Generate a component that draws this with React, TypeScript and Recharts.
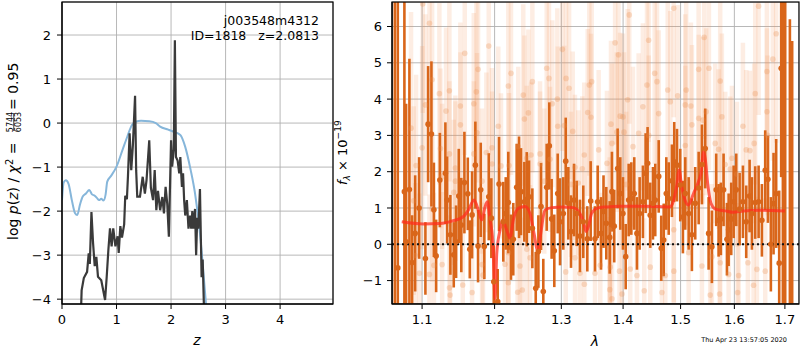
import React from "react";
import {
  ComposedChart,
  Line,
  Scatter,
  ErrorBar,
  XAxis,
  YAxis,
  CartesianGrid,
  ReferenceLine,
} from "recharts";

const FONT = "DejaVu Sans, sans-serif";

// ---- left panel: log p(z) ----
const zBlack = [
  0.345, 0.36, 0.4, 0.46, 0.49, 0.51, 0.54, 0.57, 0.6, 0.63,
  0.66, 0.72, 0.79, 0.82, 0.85, 0.88, 0.91, 0.94, 0.98, 1.02,
  1.04, 1.07, 1.1, 1.14, 1.16, 1.19, 1.21, 1.24, 1.27, 1.3,
  1.34, 1.36, 1.38, 1.43, 1.48, 1.52, 1.55, 1.6, 1.63, 1.67,
  1.7, 1.73, 1.76, 1.8, 1.84, 1.87, 1.9, 1.93, 1.96, 2.0,
  2.02, 2.05, 2.07, 2.09, 2.12, 2.15, 2.17, 2.2, 2.22, 2.24,
  2.26, 2.29, 2.32, 2.35, 2.37, 2.39, 2.41, 2.44, 2.46, 2.48,
  2.5, 2.53, 2.56, 2.58, 2.61,
];
const logpBlack = [
  -4.4, -3.8, -3.52, -3.38, -2.96, -3.2, -2.02, -2.73, -3.25, -3.04,
  -3.49, -3.57, -4.02, -3.49, -2.89, -2.39, -2.8, -2.39, -2.8, -2.57,
  -2.95, -2.34, -2.6, -2.3, -1.65, -1.73, -1.2, -0.23, -1.07, -0.5,
  0.62, -1.07, -1.67, -1.67, -1.22, -1.6, -1.3, -0.39, -1.47, -1.75,
  -1.07, -1.98, -1.54, -1.98, -1.68, -2.05, -1.45, -1.83, -2.58, -0.39,
  -0.99, -0.6, 1.88, -0.77, -0.85, -1.14, -0.77, -1.45, -1.14, -1.75,
  -2.1, -1.75, -2.4, -2.1, -2.4, -2.0, -2.4, -1.95, -3.0, -2.15,
  -2.4, -1.5, -3.5, -3.1, -4.5,
];
const zBlue = [
  0.0, 0.03, 0.07, 0.12, 0.18, 0.24, 0.28, 0.33, 0.38, 0.44,
  0.5, 0.55, 0.6, 0.64, 0.68, 0.72, 0.76, 0.8, 0.83, 0.9,
  1.0, 1.11, 1.2, 1.28, 1.35, 1.45, 1.6, 1.72, 1.8, 1.95,
  2.05, 2.17, 2.26, 2.36, 2.44, 2.53, 2.6, 2.66,
];
const logpBlue = [
  -1.75, -1.35, -1.3, -1.38, -1.75, -2.05, -2.09, -1.85, -1.67, -1.6,
  -1.52, -1.62, -1.65, -1.7, -1.75, -1.72, -1.76, -1.62, -1.33, -1.2,
  -0.99, -0.61, -0.3, -0.05, 0.03, 0.05, 0.04, 0.0, -0.08, -0.15,
  -0.2, -0.27, -0.54, -1.07, -1.6, -2.5, -3.5, -4.4,
];
const zTicks = [0, 1, 2, 3, 4];
const logpTicks = [-4, -3, -2, -1, 0, 1, 2];

// ---- right panel: spectrum ----
const darkWave = [
  1.0646, 1.0684, 1.0769, 1.0791, 1.0834, 1.0869, 1.0909, 1.0961, 1.1044, 1.108,
  1.1124, 1.1157, 1.1187, 1.1237, 1.1312, 1.1335, 1.138, 1.1426, 1.1458, 1.1495,
  1.153, 1.1573, 1.162, 1.1648, 1.168, 1.1726, 1.1764, 1.1802, 1.1853, 1.1916,
  1.1953, 1.1988, 1.2045, 1.2064, 1.2126, 1.2161, 1.2199, 1.2238, 1.2272, 1.2322,
  1.2357, 1.2386, 1.2436, 1.2472, 1.2506, 1.2556, 1.2607, 1.2647, 1.2687, 1.2722,
  1.2774, 1.2814, 1.285, 1.2891, 1.2944, 1.298, 1.3031, 1.3069, 1.311, 1.3152,
  1.32, 1.3242, 1.3294, 1.3347, 1.3412, 1.3466, 1.3536, 1.358, 1.3634, 1.3675,
  1.3721, 1.3777, 1.3814, 1.3852, 1.3909, 1.3953, 1.3998, 1.4044, 1.4094, 1.4139,
  1.4189, 1.4235, 1.4281, 1.4337, 1.4384, 1.4418, 1.4464, 1.4511, 1.4551, 1.4611,
  1.4656, 1.4699, 1.4745, 1.4788, 1.4845, 1.4886, 1.4935, 1.4994, 1.5042, 1.5084,
  1.5146, 1.5205, 1.5266, 1.5329, 1.5389, 1.545, 1.5513, 1.5574, 1.5655, 1.57,
  1.5743, 1.5794, 1.5858, 1.589, 1.594, 1.5986, 1.6036, 1.6101, 1.6165, 1.6229,
  1.6295, 1.634, 1.6405, 1.6472, 1.6537, 1.6603, 1.6657, 1.6716, 1.677, 1.6823,
  1.6884, 1.6924, 1.6959, 1.7006, 1.7102, 1.7149,
];
const darkFlux = [
  -2.5, -0.65, 1.45, 0.07, 1.51, -0.5, 0.3, 1.0, -0.39, 3.31,
  3.04, 0.95, -0.32, 1.77, 1.96, 1.22, 0.26, -0.29, 0.07, 1.33,
  0.53, 1.7, 1.39, -0.14, 0.81, 2.18, -0.05, 1.5, -0.06, 1.31,
  0.72, -1.03, -1.58, 1.66, 0.62, 0.85, 1.15, -0.08, 0.14, 1.57,
  1.57, 1.45, 1.17, 1.24, 1.31, 0.44, -1.21, -0.2, 1.04, -1.3,
  1.57, 2.71, 0.7, -0.18, 1.4, 0.62, 0.85, 2.29, 1.13, 0.35,
  1.22, 0.85, 0.23, 0.62, 0.15, 1.19, 0.15, 1.17, 0.3, 0.9,
  0.58, 0.19, 1.45, 0.5, 2.09, 1.4, 0.85, -0.34, 1.22, 1.26,
  1.4, 0.3, 0.85, 1.17, 1.96, 2.23, 0.8, 1.13, 1.22, 1.87,
  -0.11, 0.12, 1.4, 1.26, 1.75, 2.27, 2.18, 1.63, 0.75, 1.4,
  0.85, 0.26, 1.13, 1.55, 2.2, 2.64, 0.3, -0.07, 1.5, 0.66,
  0.7, 1.5, 0.14, 0.4, 0.7, 1.17, 1.5, 0.97, 1.17, 0.62,
  1.33, 0.85, 1.15, 1.17, 0.66, 2.04, 1.79, 0.0, 1.12, 1.4,
  -0.52, 4.85, -2.0, -2.0, -2.5, -2.5,
];
const darkErr = [
  9.5, 8.0, 6.0, 3.8, 3.6, 1.3, 1.6, 1.4, 1.0, 1.6,
  2.0, 1.3, 1.0, 1.3, 1.4, 1.2, 1.1, 0.9, 1.0, 1.3,
  1.3, 1.4, 1.0, 0.8, 1.2, 1.2, 1.0, 1.3, 0.9, 1.2,
  1.1, 1.0, 0.9, 1.3, 1.1, 1.0, 1.4, 0.9, 1.0, 1.2,
  1.4, 1.2, 1.1, 1.3, 1.0, 1.1, 1.0, 1.0, 1.2, 0.9,
  1.2, 1.2, 1.1, 1.0, 1.1, 1.2, 1.0, 1.2, 1.0, 1.0,
  1.0, 0.9, 1.0, 1.0, 0.9, 1.1, 0.9, 1.0, 1.0, 1.0,
  1.0, 1.0, 1.1, 1.0, 1.1, 1.0, 1.0, 0.9, 1.0, 1.0,
  1.0, 1.0, 1.0, 1.0, 1.1, 1.0, 0.9, 1.0, 1.0, 1.0,
  0.9, 1.0, 1.0, 1.0, 1.0, 1.1, 1.0, 1.0, 1.0, 1.0,
  1.0, 1.0, 1.0, 1.0, 1.1, 1.1, 1.0, 1.0, 1.0, 1.0,
  1.0, 1.0, 1.0, 1.0, 1.0, 1.0, 1.0, 1.0, 1.0, 1.0,
  1.0, 1.0, 1.0, 1.0, 1.0, 1.1, 1.2, 1.3, 1.4, 1.5,
  2.0, 3.0, 9.0, 9.0, 8.7, 8.1,
];

const lightWave = [
  1.0855, 1.089,
  1.0912, 1.0921, 1.0965, 1.1, 1.1009, 1.1044, 1.1097, 1.1098, 1.1133, 1.1134,
  1.1157, 1.1231, 1.1245, 1.1267, 1.1268, 1.1321, 1.1366, 1.1367, 1.1368, 1.1376,
  1.1426, 1.1448, 1.1449, 1.1517, 1.1518, 1.155, 1.1578, 1.168, 1.1704, 1.1705,
  1.174, 1.175, 1.1764, 1.182, 1.1821, 1.1834, 1.1882, 1.1916, 1.1963, 1.1964,
  1.2053, 1.2092, 1.2151, 1.2199, 1.22, 1.2201, 1.2209, 1.2238, 1.2337, 1.2346,
  1.2371, 1.2405, 1.242, 1.2436, 1.2472, 1.2473, 1.2496, 1.2521, 1.2536, 1.2556,
  1.2672, 1.2673, 1.2737, 1.2774, 1.2809, 1.2825, 1.286, 1.2938, 1.2944, 1.3016,
  1.3047, 1.3069, 1.3074, 1.3121, 1.3152, 1.3179, 1.3215, 1.3216, 1.3266, 1.3294,
  1.3331, 1.3363, 1.3364, 1.3418, 1.3444, 1.3471, 1.3482, 1.3536, 1.3596, 1.3622,
  1.3732, 1.3777, 1.3778, 1.3786, 1.3798, 1.3814, 1.3815, 1.3867, 1.3895, 1.3923,
  1.394, 1.395, 1.3981, 1.3998, 1.4015, 1.4053, 1.4077, 1.4104, 1.4121, 1.4167,
  1.4235, 1.4264, 1.4337, 1.436, 1.4407, 1.4436, 1.4437, 1.4464, 1.4541, 1.4581,
  1.4611, 1.4668, 1.4727, 1.477, 1.4816, 1.4877, 1.4878, 1.4879, 1.4947, 1.5084,
  1.5085, 1.5101, 1.5146, 1.5187, 1.5205, 1.5329, 1.533, 1.5389, 1.5407, 1.5431,
  1.5468, 1.5519, 1.5543, 1.5574, 1.5636, 1.57, 1.5719, 1.573, 1.5731, 1.5762,
  1.5825, 1.589, 1.5921, 1.5953, 1.6049, 1.6062, 1.6082, 1.6165, 1.6229, 1.6262,
  1.6301, 1.6373, 1.6385, 1.6405, 1.6438, 1.6472, 1.6603, 1.6637, 1.6638, 1.665,
  1.6756, 1.6823,
];
const lightFlux = [
  3.2, 1.2,
  -0.31, 2.17, -0.8, 2.66, 6.62, 3.84, -0.83, 6.09, 4.53, 0.97,
  -0.58, 4.15, 2.64, 1.87, -0.56, 3.67, 4.23, 2.49, -1.2, -1.4,
  1.43, 2.1, 1.74, 3.81, 3.29, -1.12, 5.26, -1.33, 3.87, 2.49,
  4.2, 3.07, 4.82, 1.74, -0.56, -0.85, 2.53, 5.46, 2.66, 2.21,
  3.25, 2.16, -0.55, 4.36, -1.06, -0.23, 2.17, 4.71, -1.32, 2.69,
  -0.6, -1.26, 4.11, 3.45, 2.37, -0.14, 3.62, -0.37, 2.46, 4.48,
  2.49, 2.21, 1.74, 4.85, 4.57, 2.34, 3.87, 4.0, 3.25, 5.37,
  3.27, -0.76, 4.57, 4.3, 1.65, 3.11, 2.12, -0.37, 1.69, -0.8,
  2.08, 2.46, -1.1, 3.63, 4.39, 3.5, 4.48, -0.8, 2.6, -0.58,
  2.23, 0.4, -1.25, -0.63, 3.31, 2.78, -1.5, 5.55, 3.09, 5.22,
  -0.74, 3.53, -1.37, 3.51, 3.09, 1.65, 3.98, 6.32, -0.68, 2.69,
  -0.86, 3.06, 3.79, -1.28, 4.39, 5.62, 3.0, -0.63, 4.71, 4.48,
  3.6, -1.33, -0.86, 4.25, 3.93, 6.5, 0.4, -0.74, 4.09, 3.84,
  2.72, 4.25, -0.23, 3.81, 3.29, 4.82, 3.47, -0.6, 3.42, 5.7,
  3.65, 4.85, -1.4, -0.34, 2.78, 2.62, -1.37, 4.5, -0.51, 3.51,
  2.2, -0.83, 2.07, 2.37, 1.93, -1.33, -0.86, 3.25, 2.6, -0.51,
  2.58, -1.13, 2.78, 4.15, -0.69, 6.56, -0.74, 4.76, 3.65, 3.0,
  5.1, 5.8,
];
const lightErr = [
  3.2, 2.6,
  2.0, 2.5, 2.2, 2.8, 3.0, 2.5, 2.2, 2.8, 2.5, 2.0,
  2.0, 2.5, 2.2, 2.0, 2.0, 2.3, 2.5, 2.0, 2.0, 1.8,
  2.0, 2.0, 2.2, 2.3, 2.0, 2.0, 2.8, 2.0, 2.5, 2.0,
  2.5, 2.2, 2.8, 2.0, 2.0, 2.0, 2.2, 3.0, 2.2, 2.0,
  2.2, 2.0, 2.0, 2.5, 2.0, 2.0, 2.0, 2.8, 2.0, 2.2,
  2.0, 2.0, 2.5, 2.3, 2.0, 2.0, 2.3, 2.0, 2.0, 2.5,
  2.0, 2.0, 2.0, 2.8, 2.5, 2.0, 2.3, 2.5, 2.2, 2.8,
  2.2, 2.0, 2.5, 2.5, 2.0, 2.2, 2.0, 2.0, 2.0, 2.0,
  2.0, 2.0, 2.0, 2.3, 2.5, 2.3, 2.5, 2.0, 2.2, 2.0,
  2.0, 2.0, 2.0, 2.0, 2.3, 2.2, 1.8, 2.8, 2.2, 2.8,
  2.0, 2.3, 2.0, 2.3, 2.2, 2.0, 2.5, 3.0, 2.0, 2.2,
  2.0, 2.2, 2.3, 2.0, 2.5, 2.8, 2.2, 2.0, 2.5, 2.5,
  2.3, 2.0, 2.0, 2.5, 2.5, 3.0, 2.0, 2.0, 2.5, 2.5,
  2.2, 2.5, 2.0, 2.3, 2.2, 2.8, 2.3, 2.0, 2.3, 2.8,
  2.3, 2.8, 2.0, 2.0, 2.2, 2.2, 2.0, 2.5, 2.0, 2.3,
  2.0, 2.0, 2.0, 2.0, 2.0, 2.0, 2.0, 2.3, 2.2, 2.0,
  2.2, 2.0, 2.2, 2.5, 2.0, 3.0, 2.0, 2.8, 2.3, 2.2,
  2.8, 3.0,
];

const modelWave = [
  1.0735, 1.1017, 1.124, 1.1418, 1.1557, 1.1627, 1.1708, 1.1768, 1.1816, 1.1863,
  1.1896, 1.1935, 1.1973, 1.2007, 1.2031, 1.2078, 1.2117, 1.2175, 1.2224, 1.2272,
  1.2346, 1.2446, 1.2521, 1.2581, 1.2642, 1.2683, 1.2748, 1.285, 1.3031, 1.3189,
  1.3294, 1.3358, 1.339, 1.3428, 1.3482, 1.3563, 1.3727, 1.3948, 1.4401, 1.4809,
  1.4868, 1.4928, 1.4975, 1.5019, 1.5079, 1.514, 1.5235, 1.5327, 1.5372, 1.542,
  1.5451, 1.5494, 1.5557, 1.5639, 1.583, 1.5978, 1.6171, 1.6498, 1.7,
];
const modelFlux = [
  0.62, 0.56, 0.57, 0.65, 0.76, 0.94, 1.22, 0.94, 0.67, 1.03,
  1.17, 0.67, 0.12, -1.5, -0.25, 0.39, 0.67, 0.39, 0.17, 0.67,
  0.99, 1.04, 0.85, 0.3, -0.2, 0.3, 0.94, 1.01, 1.03, 1.01,
  0.85, 0.57, 0.35, 0.48, 0.85, 0.99, 1.03, 1.05, 1.05, 1.03,
  1.17, 1.59, 2.05, 1.59, 1.22, 1.08, 1.4, 1.73, 1.96, 2.55,
  2.35, 1.7, 1.13, 0.97, 0.92, 0.88, 0.92, 0.94, 0.92,
];
const waveTicks = [1.1, 1.2, 1.3, 1.4, 1.5, 1.6, 1.7];
const fluxTicks = [-1, 0, 1, 2, 3, 4, 5, 6];

const blackRows = zBlack.map((x, i) => ({ x, y: logpBlack[i] }));
const blueRows = zBlue.map((x, i) => ({ x, y: logpBlue[i] }));
const darkRows = darkWave.map((x, i) => ({ x, y: darkFlux[i], e: darkErr[i] }));
const lightRows = lightWave.map((x, i) => ({ x, y: lightFlux[i], e: lightErr[i] }));
const modelRows = modelWave.map((x, i) => ({ x, y: modelFlux[i] }));

const minus = (v: number) => (v < 0 ? `\u2212${Math.abs(v)}` : `${v}`);
const tickStyle = { fontSize: 13, fill: "#000", fontFamily: FONT };

const DARK = "#d9661a";
const RIGHT_MARGIN = { top: 2, right: 1, bottom: 16, left: 20 };

// shared axes of the spectrum panel (drawn twice: once for labels, once clipped for data)
function SpecAxes() {
  return null;
}

export default function App() {
  const specX = (
    <XAxis
      dataKey="x"
      type="number"
      scale="log"
      domain={[1.061, 1.729]}
      ticks={waveTicks}
      allowDataOverflow
      height={30}
      tick={tickStyle}
      tickFormatter={(v: number) => v.toFixed(1)}
      tickSize={5}
      tickMargin={6}
      stroke="#000"
    />
  );
  const specY = (
    <YAxis
      dataKey="y"
      type="number"
      domain={[-1.645, 6.675]}
      ticks={fluxTicks}
      allowDataOverflow
      width={40}
      tick={tickStyle}
      tickFormatter={minus}
      tickSize={5}
      tickMargin={5}
      stroke="#000"
    />
  );

  return (
    <div style={{ position: "absolute", left: 0, top: 0, width: 800, height: 350, background: "#fff" }}>
      <div style={{ position: "absolute", left: 0, top: 0 }}>
        <ComposedChart width={340} height={350} margin={{ top: 2, right: 7, bottom: 16, left: 12 }}>
          <CartesianGrid stroke="#b0b0b0" strokeWidth={0.9} />
          <XAxis
            dataKey="x"
            type="number"
            domain={[0, 4.97]}
            ticks={zTicks}
            allowDataOverflow
            height={30}
            tick={tickStyle}
            tickSize={5}
            tickMargin={6}
            stroke="#000"
          />
          <YAxis
            dataKey="y"
            type="number"
            domain={[-4.11, 2.75]}
            ticks={logpTicks}
            allowDataOverflow
            width={50}
            tick={tickStyle}
            tickFormatter={minus}
            tickSize={5}
            tickMargin={6}
            stroke="#000"
          />
          <Line
            data={blueRows}
            dataKey="y"
            type="monotone"
            stroke="#86b6da"
            strokeWidth={2}
            dot={false}
            isAnimationActive={false}
          />
          <Line
            data={blackRows}
            dataKey="y"
            type="linear"
            stroke="#3a3a3a"
            strokeWidth={2.2}
            dot={false}
            isAnimationActive={false}
          />
        </ComposedChart>
      </div>

      {/* spectrum: axes + tick labels */}
      <div style={{ position: "absolute", left: 332, top: 0 }}>
        <ComposedChart width={468} height={350} margin={RIGHT_MARGIN} data={modelRows}>
          {specX}
          {specY}
        </ComposedChart>
      </div>

      {/* spectrum: grid and data, clipped to the plot frame */}
      <div style={{ position: "absolute", left: 332, top: 0, clipPath: "inset(2px 1px 46px 60px)" }}>
        <ComposedChart width={468} height={350} margin={RIGHT_MARGIN}>
          <CartesianGrid stroke="#b0b0b0" strokeWidth={0.9} />
          {specX}
          {specY}
          <Scatter
            data={lightRows}
            dataKey="y"
            isAnimationActive={false}
            shape={(p: any) => <circle cx={p.cx} cy={p.cy} r={2.8} fill="rgba(235,140,75,0.28)" />}
          >
            <ErrorBar dataKey="e" direction="y" width={0} stroke="rgba(240,145,80,0.16)" strokeWidth={4.5} isAnimationActive={false} />
          </Scatter>
          <Scatter
            data={darkRows}
            dataKey="y"
            isAnimationActive={false}
            shape={(p: any) => <circle cx={p.cx} cy={p.cy} r={2.8} fill={DARK} />}
          >
            <ErrorBar dataKey="e" direction="y" width={0} stroke={DARK} strokeWidth={2.6} isAnimationActive={false} />
          </Scatter>
          <Line
            data={modelRows}
            dataKey="y"
            type="monotone"
            stroke="#ff2d1e"
            strokeOpacity={0.75}
            strokeWidth={3}
            dot={false}
            isAnimationActive={false}
          />
          <ReferenceLine y={0} stroke="#111" strokeDasharray="2 3" strokeWidth={2} />
        </ComposedChart>
      </div>

      <svg
        width={800}
        height={350}
        style={{ position: "absolute", left: 0, top: 0, pointerEvents: "none" }}
        fontFamily={FONT}
      >
        <rect x={62} y={2} width={271} height={302} fill="none" stroke="#000" strokeWidth={1.2} />
        <rect x={392} y={2} width={407} height={302} fill="none" stroke="#000" strokeWidth={1.2} />

        <text x={319} y={25} textAnchor="end" fontSize={12.5}>j003548m4312</text>
        <text x={319} y={39.5} textAnchor="end" fontSize={12.5}>
          {"ID=1818\u00a0\u00a0\u00a0z=2.0813"}
        </text>

        <text x={197} y={345} textAnchor="middle" fontSize={14} fontStyle="italic">z</text>
        <text x={595} y={346} textAnchor="middle" fontSize={14} fontStyle="italic">λ</text>
        <text x={787} y={342} textAnchor="end" fontSize={6.5}>Thu Apr 23 13:57:05 2020</text>

        <g transform="translate(18,240) rotate(-90)" fontSize={14}>
          <text x={0} y={0}>
            log <tspan fontStyle="italic">p</tspan>(<tspan fontStyle="italic">z</tspan>) / <tspan fontStyle="italic">χ</tspan>
            <tspan dy={-5} fontSize={10}>2</tspan>
            <tspan dy={5}>{"\u00a0="}</tspan>
          </text>
          <text x={118} y={-5} fontSize={8} textAnchor="middle">5744</text>
          <line x1={109} x2={127} y1={-4.2} y2={-4.2} stroke="#000" strokeWidth={0.8} />
          <text x={118} y={2.5} fontSize={8} textAnchor="middle">6053</text>
          <text x={130} y={0}>= 0.95</text>
        </g>

        <g transform="translate(347,185) rotate(-90)" fontSize={13}>
          <text x={0} y={0}>
            <tspan fontStyle="italic">f</tspan>
            <tspan fontSize={9} dy={3} fontStyle="italic">λ</tspan>
            <tspan dy={-3}>{"\u00a0×\u00a010"}</tspan>
            <tspan fontSize={9} dy={-6}>−19</tspan>
          </text>
        </g>
      </svg>
      <SpecAxes />
    </div>
  );
}
